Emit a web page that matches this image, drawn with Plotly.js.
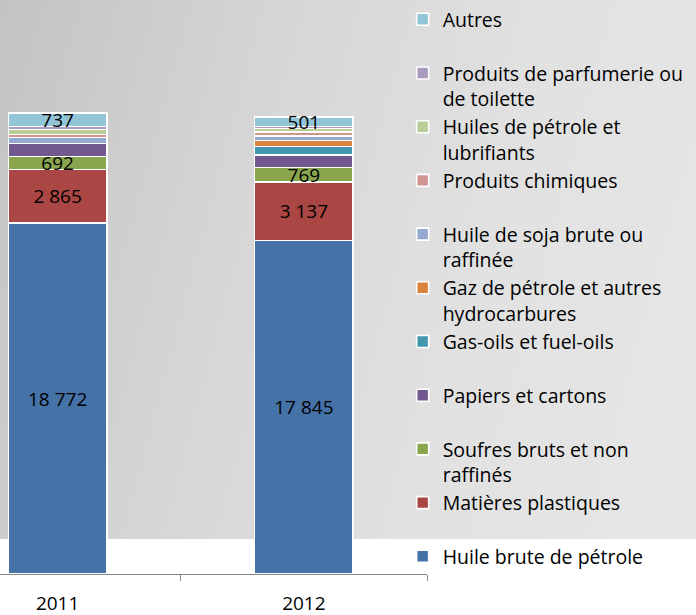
<!DOCTYPE html>
<html>
<head>
<meta charset="utf-8">
<script src="https://cdn.plot.ly/plotly-3.0.1.min.js"></script>
<style>
  html, body { margin: 0; padding: 0; background: #ffffff; }
  #wrap { position: relative; width: 696px; height: 615px; overflow: hidden; background: #ffffff; }
  #bg { position: absolute; left: 0; top: 0; width: 696px; height: 539px;
        background: linear-gradient(105deg, #c3c3c3 0%, #d6d6d6 35%, #e1e1e1 65%, #e7e7e7 100%); }
  #chart { position: absolute; left: 0; top: 0; width: 696px; height: 615px; }
</style>
</head>
<body>
<div id="wrap"><div id="bg"></div><div id="chart"></div></div>
<script>
// Categories
const years = ['2011', '2012'];

// Series (bottom to top of the stack)
const huileBrute      = [18772, 17845];
const matieresPlast   = [2865, 3137];
const soufres         = [692, 769];
const papiers         = [700, 665];
const gasOils         = [0, 450];
const gazPetrole      = [0, 330];
const huileSoja       = [310, 230];
const produitsChim    = [160, 200];
const huilesPetrole   = [280, 200];
const parfumerie      = [150, 100];
const autres          = [737, 501];

const seriesNames = [
  'Huile brute de pétrole',
  'Matières plastiques<br>&nbsp;',
  'Soufres bruts et non<br>raffinés',
  'Papiers et cartons<br>&nbsp;',
  'Gas-oils et fuel-oils<br>&nbsp;',
  'Gaz de pétrole et autres<br>hydrocarbures',
  'Huile de soja brute ou<br>raffinée',
  'Produits chimiques<br>&nbsp;',
  'Huiles de pétrole et<br>lubrifiants',
  'Produits de parfumerie ou<br>de toilette',
  'Autres<br>&nbsp;'
];
const seriesValues = [huileBrute, matieresPlast, soufres, papiers, gasOils, gazPetrole,
                      huileSoja, produitsChim, huilesPetrole, parfumerie, autres];
const seriesColors = ['#4572A7', '#AA4643', '#89A54E', '#71588F', '#4198AF', '#DB843D',
                      '#93A9CF', '#D19392', '#B9CD96', '#A99BBD', '#92C5D8'];
const labelled = [true, true, true, false, false, false, false, false, false, false, true];

const FONT = '"Open Sans", Lato, sans-serif';

const traces = seriesValues.map((vals, i) => ({
  type: 'bar',
  name: seriesNames[i],
  x: years,
  y: vals,
  marker: { color: seriesColors[i], line: { color: '#ffffff', width: 1.6 } },
  texttemplate: labelled[i] ? '%{y:,}' : '',
  textposition: labelled[i] ? 'inside' : 'none',
  insidetextanchor: 'middle',
  textangle: 0,
  constraintext: 'none',
  cliponaxis: false,
  textfont: { family: FONT, size: 19, color: '#000000' },
  hoverinfo: 'x+y+name'
}));

const layout = {
  width: 696,
  height: 615,
  margin: { l: 0, r: 269, t: 0, b: 41, pad: 0 },
  paper_bgcolor: 'rgba(0,0,0,0)',
  plot_bgcolor: 'rgba(0,0,0,0)',
  barmode: 'stack',
  bargap: 0.6,
  separators: ', ',
  font: { family: FONT, size: 19, color: '#000000' },
  showlegend: true,
  legend: {
    x: 0.943, xanchor: 'left',
    y: 1.005, yanchor: 'top',
    maxheight: 700,
    traceorder: 'reversed',
    valign: 'top',
    bgcolor: 'rgba(0,0,0,0)',
    borderwidth: 0,
    font: { family: FONT, size: 19.5, color: '#000000' }
  },
  xaxis: {
    type: 'category',
    range: [-0.234, 1.5],
    showline: true,
    linecolor: '#868686',
    linewidth: 1,
    ticks: 'outside',
    tickson: 'boundaries',
    ticklen: 6,
    tickcolor: '#868686',
    ticklabelstandoff: 12,
    showgrid: false,
    zeroline: false,
    tickfont: { family: FONT, size: 19, color: '#000000' },
    fixedrange: true
  },
  yaxis: {
    range: [0, 30540],
    visible: false,
    showgrid: false,
    zeroline: false,
    fixedrange: true
  }
};

Plotly.newPlot('chart', traces, layout, { displayModeBar: false, staticPlot: true });
</script>
</body>
</html>
